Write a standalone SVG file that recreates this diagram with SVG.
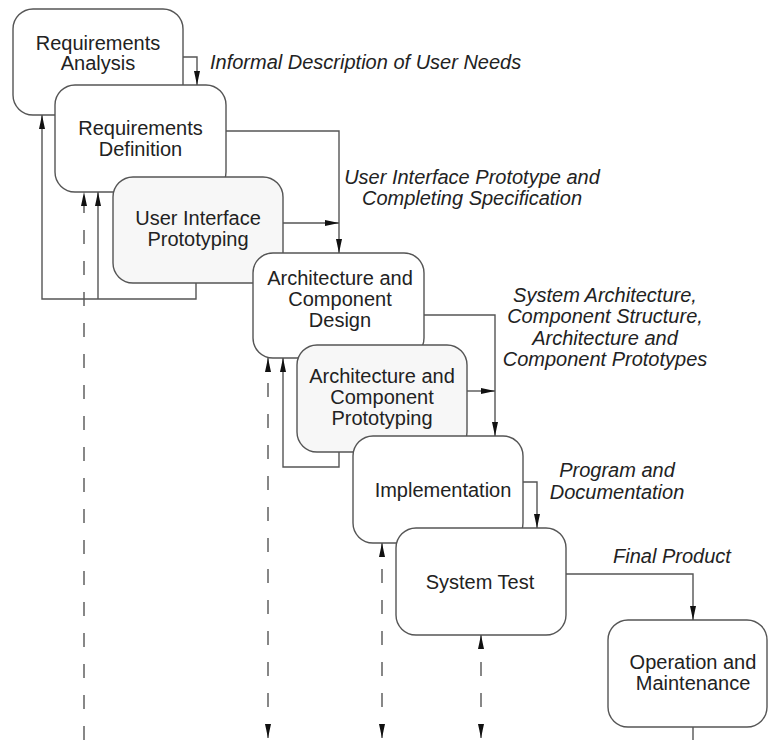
<svg xmlns="http://www.w3.org/2000/svg" width="768" height="740" viewBox="0 0 768 740">
  <style>
    .box { fill: #ffffff; stroke: #555555; stroke-width: 1.4; }
    .box.proto { fill: #f7f7f7; }
    .lbl { font-family: "Liberation Sans", Arial, sans-serif; font-size: 20px; fill: #222222; text-anchor: middle; }
    .flow { font-family: "Liberation Sans", Arial, sans-serif; font-size: 20px; font-style: italic; fill: #222222; }
    .mid { text-anchor: middle; }
    .line { fill: none; stroke: #555555; stroke-width: 1.4; }
    .dash { stroke-dasharray: 14 17; }
  </style>
  <defs>
    <marker id="arrow" markerUnits="userSpaceOnUse" markerWidth="15" markerHeight="7" refX="14" refY="3.5" orient="auto-start-reverse">
      <path d="M0,0.5 L14,3.5 L0,6.5 z" fill="#111111"/>
    </marker>
  </defs>

  <rect width="768" height="740" fill="#ffffff"/>

  <!-- process stages -->
  <g id="requirements-analysis">
    <rect class="box" x="13" y="9" width="170" height="106" rx="20"/>
    <text class="lbl" x="98" y="49.5">Requirements</text>
    <text class="lbl" x="98" y="70">Analysis</text>
  </g>
  <g id="requirements-definition">
    <rect class="box" x="55" y="85" width="171" height="107" rx="20"/>
    <text class="lbl" x="140.5" y="135">Requirements</text>
    <text class="lbl" x="140.5" y="156">Definition</text>
  </g>
  <g id="ui-prototyping">
    <rect class="box proto" x="113" y="177" width="170" height="106" rx="20"/>
    <text class="lbl" x="198" y="225">User Interface</text>
    <text class="lbl" x="198" y="246">Prototyping</text>
  </g>
  <g id="architecture-design">
    <rect class="box" x="253" y="253" width="171" height="105" rx="20"/>
    <text class="lbl" x="340" y="285">Architecture and</text>
    <text class="lbl" x="340" y="306">Component</text>
    <text class="lbl" x="340" y="327">Design</text>
  </g>
  <g id="architecture-prototyping">
    <rect class="box proto" x="297" y="345" width="170" height="107" rx="20"/>
    <text class="lbl" x="382" y="383">Architecture and</text>
    <text class="lbl" x="382" y="404">Component</text>
    <text class="lbl" x="382" y="425">Prototyping</text>
  </g>
  <g id="implementation">
    <rect class="box" x="353" y="436" width="170" height="107" rx="20"/>
    <text class="lbl" x="443" y="497">Implementation</text>
  </g>
  <g id="system-test">
    <rect class="box" x="396" y="528" width="170" height="107" rx="20"/>
    <text class="lbl" x="480" y="589">System Test</text>
  </g>
  <g id="operation-maintenance">
    <rect class="box" x="608" y="620" width="159" height="107" rx="20"/>
    <text class="lbl" x="693" y="669">Operation and</text>
    <text class="lbl" x="693" y="690">Maintenance</text>
  </g>

  <!-- connectors -->
  <g id="connectors">
    <path class="line" d="M183,57 H197 V85" marker-end="url(#arrow)"/>
    <path class="line" d="M226,131 H339 V253" marker-end="url(#arrow)"/>
    <path class="line" d="M283,223 H339" marker-end="url(#arrow)"/>
    <path class="line" d="M424,315 H495 V436" marker-end="url(#arrow)"/>
    <path class="line" d="M467,391 H495" marker-end="url(#arrow)"/>
    <path class="line" d="M523,482 H537 V528" marker-end="url(#arrow)"/>
    <path class="line" d="M566,574 H693 V620" marker-end="url(#arrow)"/>
    <path class="line" d="M693,727 V740"/>

    <!-- feedback loops -->
    <path class="line" d="M196,283 V299 H42 V115" marker-end="url(#arrow)"/>
    <path class="line" d="M98,299 V192" marker-end="url(#arrow)"/>
    <path class="line" d="M339,452 V467 H283 V358" marker-end="url(#arrow)"/>

    <!-- dashed links -->
    <path class="line dash" d="M84,740 V192" marker-end="url(#arrow)"/>
    <path class="line dash" d="M268,738 V358" marker-start="url(#arrow)" marker-end="url(#arrow)"/>
    <path class="line dash" d="M382,738 V543" marker-start="url(#arrow)" marker-end="url(#arrow)"/>
    <path class="line dash" d="M481,738 V635" marker-start="url(#arrow)" marker-end="url(#arrow)"/>
  </g>

  <!-- flow labels -->
  <g id="flow-labels">
    <text class="flow" x="210" y="69">Informal Description of User Needs</text>
    <text class="flow mid" x="472" y="184">User Interface Prototype and</text>
    <text class="flow mid" x="472" y="205">Completing Specification</text>
    <text class="flow mid" x="605" y="302">System Architecture,</text>
    <text class="flow mid" x="605" y="323">Component Structure,</text>
    <text class="flow mid" x="605" y="345">Architecture and</text>
    <text class="flow mid" x="605" y="366">Component Prototypes</text>
    <text class="flow mid" x="617" y="477">Program and</text>
    <text class="flow mid" x="617" y="499">Documentation</text>
    <text class="flow mid" x="672" y="563">Final Product</text>
  </g>
</svg>
